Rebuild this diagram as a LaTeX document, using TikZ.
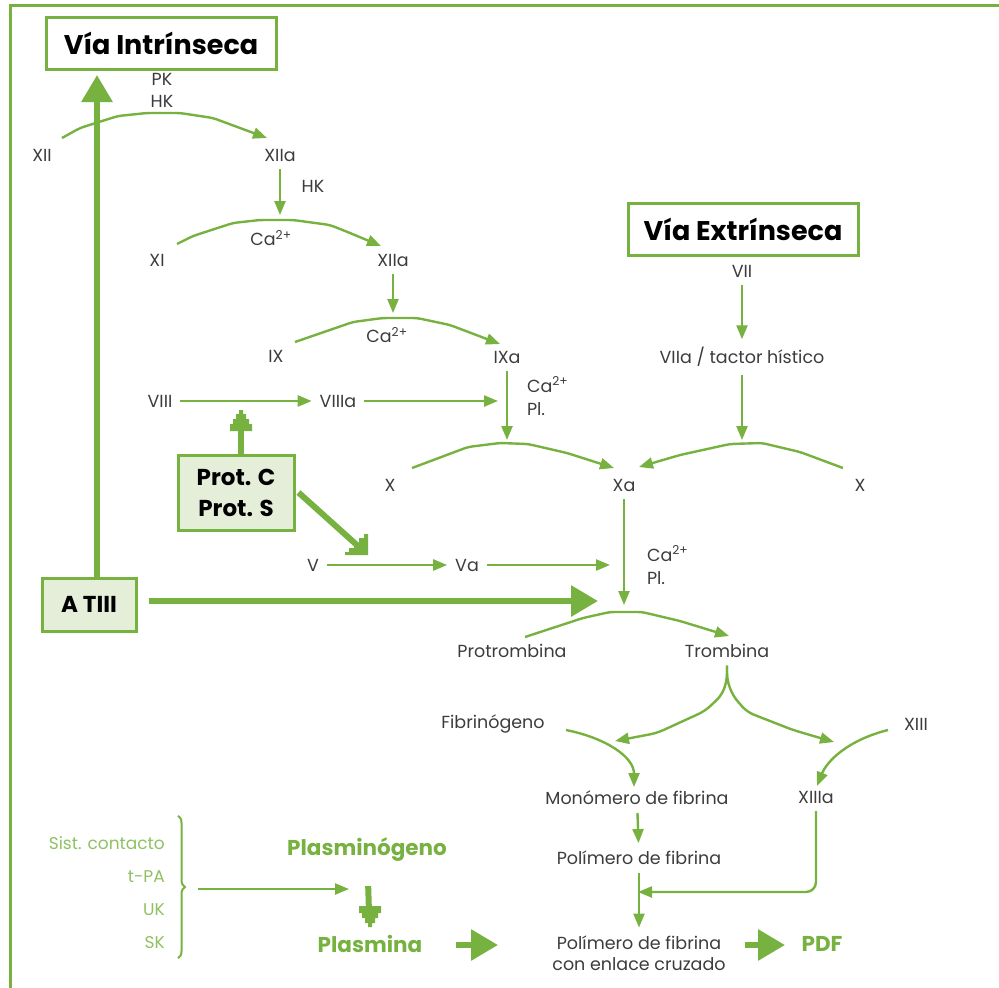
\documentclass[tikz,border=0pt]{standalone}
\usepackage{fontspec}
\setmainfont{Poppins}
\usetikzlibrary{arrows.meta,positioning,decorations.pathreplacing,calc}
\definecolor{leaf}{RGB}{119,177,64}
\definecolor{pale}{RGB}{229,238,217}
\definecolor{soft}{RGB}{143,193,98}
\definecolor{ink}{RGB}{60,60,60}
\tikzset{>={Triangle[length=14pt,width=11pt]}}
\tikzstyle{lbl}=[inner sep=4pt, outer sep=4pt, text=ink, font=\fontsize{17.5}{22}\selectfont]
\tikzstyle{flow}=[->, draw=leaf, line width=2.4pt]
\tikzstyle{heavy}=[-{Triangle[length=27pt,width=30pt]}, draw=leaf, line width=6pt]
\tikzstyle{thickline}=[draw=leaf, line width=6pt]
\tikzstyle{title}=[draw=leaf, line width=3pt, fill=white, text=black, font=\fontsize{27}{30}\selectfont\bfseries, minimum width=230pt, minimum height=52pt, inner sep=2pt]
\tikzstyle{inhib}=[draw=leaf, line width=3pt, fill=pale, text=black, align=center, font=\fontsize{23}{31}\selectfont\bfseries]
\tikzstyle{plasm}=[inner sep=3pt, text=leaf, font=\fontsize{21.5}{24}\selectfont\bfseries]
\tikzset{
  stairup/.pic={\fill[leaf] (-2,0) -- (2,0) -- (2,4) -- (5,4) -- (5,9) -- (8,9) -- (8,14) -- (11,14) -- (11,21)
    -- (-11,21) -- (-11,14) -- (-8,14) -- (-8,9) -- (-5,9) -- (-5,4) -- (-2,4) -- cycle;},
  stairdiag/.pic={\fill[leaf] (0,0) -- (-23,0) -- (-23,-3) -- (-19,-3) -- (-19,-7) -- (-14,-7) -- (-14,-12)
    -- (-9,-12) -- (-9,-17) -- (-4,-17) -- (-4,-21) -- (0,-21) -- cycle;}
}

\begin{document}
\begin{tikzpicture}[x=1pt,y=-1pt]
  \useasboundingbox (0,0) rectangle (999,988);

  % Frame
  \draw[leaf, line width=3pt] (10,988) -- (10,5) -- (999,5);

  % Titles
  \node[title] (viaIn) at (161,43) {Vía Intrínseca};
  \node[title] (viaEx) at (743,229.5) {Vía Extrínseca};

  % Intrinsic pathway
  \node[lbl, align=center] (pkhk) at (162,90) {PK\\HK};
  \node[lbl] (xii) at (42,155) {XII};
  \node[lbl] (xiia) at (280,155) {XIIa};
  \node[lbl] (hk) at (313,186) {HK};
  \node[lbl] (xi) at (157,260) {XI};
  \node[lbl] (ca1) at (271,238) {Ca\textsuperscript{2+}};
  \node[lbl] (xiia2) at (393,260) {XIIa};
  \node[lbl] (ix) at (276,356) {IX};
  \node[lbl] (ca2) at (387,335) {Ca\textsuperscript{2+}};
  \node[lbl] (ixa) at (507,357) {IXa};
  \node[lbl, align=left, anchor=west, font=\fontsize{17.5}{23}\selectfont] (capl1) at (519,396) {Ca\textsuperscript{2+}\\Pl.};
  \node[lbl] (viii) at (160,401) {VIII};
  \node[lbl] (viiia) at (338,401) {VIIIa};

  % Extrinsic pathway
  \node[lbl] (vii) at (742,271) {VII};
  \node[lbl] (viia) at (742,357) {VIIa / tactor hístico};

  % Common pathway
  \node[lbl] (x1) at (390,485) {X};
  \node[lbl] (xa) at (624,485) {Xa};
  \node[lbl] (x2) at (860,485) {X};
  \node[lbl] (v) at (313,565) {V};
  \node[lbl] (va) at (467,565) {Va};
  \node[lbl, align=left, anchor=west, font=\fontsize{17.5}{23}\selectfont] (capl2) at (639,565) {Ca\textsuperscript{2+}\\Pl.};
  \node[lbl] (protr) at (512,651) {Protrombina};
  \node[lbl] (tromb) at (727,651) {Trombina};
  \node[lbl] (fibr) at (493,724) {Fibrinógeno};
  \node[lbl] (xiii) at (916,724) {XIII};
  \node[lbl] (mono) at (637,798) {Monómero de fibrina};
  \node[lbl] (xiiia) at (816,797) {XIIIa};
  \node[lbl] (poli) at (639,858) {Polímero de fibrina};
  \node[lbl, align=center, font=\fontsize{17.5}{21}\selectfont] (polix) at (639,953) {Polímero de fibrina\\con enlace cruzado};

  % Inhibitors
  \node[inhib, minimum width=116pt, minimum height=75pt] (prot) at (236,492.5) {Prot. C\\Prot. S};
  \node[inhib, minimum width=94pt, minimum height=53pt] (atiii) at (89,604.5) {A TIII};

  % Fibrinolysis
  \node[plasm] (plgn) at (367,849) {Plasminógeno};
  \node[plasm] (plas) at (370,944) {Plasmina};
  \node[plasm] (pdf) at (822,944) {PDF};
  \node[inner sep=3pt, anchor=east, align=right, text=soft, font=\fontsize{17}{33}\selectfont] (activ) at (168,893) {Sist. contacto\\t-PA\\UK\\SK};

  % Free ends
  \coordinate (t1) at (280,215);
  \coordinate (t2) at (393,313);
  \coordinate (t3) at (507,440);
  \coordinate (t4) at (498,401);
  \coordinate (t5) at (742,440);
  \coordinate (t6) at (624,605);
  \coordinate (t7) at (610,565);
  \coordinate (t8) at (598,601);
  \coordinate (t9) at (97,72);
  \coordinate (t10) at (241,410);
  \coordinate (t11) at (368,555);
  \coordinate (t12) at (370,927);
  \coordinate (t13) at (638,892);
  \coordinate (t14) at (349,889);
  \coordinate (fl) at (615,741);
  \coordinate (fr) at (834,742);

  % Arcs
  \draw[flow, rounded corners=4pt] ([shift={(20,-17)}]xii.center) -- (80,128) -- (118,116) -- (147,113)
    -- (180,113) -- (213,118) -- ([shift={(-13,-17)}]xiia.center);
  \draw[flow, rounded corners=4pt] ([shift={(20,-16)}]xi.center) -- (193,236) -- (233,223) -- (260,220)
    -- (293,220) -- (330,225) -- (350,233) -- ([shift={(-12,-14)}]xiia2.center);
  \draw[flow, rounded corners=4pt] ([shift={(19,-14)}]ix.center) -- (353,322) -- (383,318) -- (417,318)
    -- (450,325) -- ([shift={(-7,-13)}]ixa.center);
  \draw[flow, rounded corners=4pt] ([shift={(22,-17)}]x1.center) -- (468,447) -- (500,443) -- (528,444)
    -- (567,453) -- ([shift={(-10,-17)}]xa.center);
  \draw[flow, rounded corners=4pt] ([shift={(-17,-17)}]x2.center) -- (800,452) -- (762,443) -- (730,444)
    -- (680,455) -- ([shift={(15,-18)}]xa.center);
  \draw[flow, rounded corners=4pt] ([shift={(13,-14)}]protr.center) -- (583,618) -- (610,612) -- (642,612)
    -- (680,621) -- ([shift={(2,-15)}]tromb.center);

  % Straight steps
  \draw[flow] (xiia) -- (t1);
  \draw[flow] (xiia2) -- (t2);
  \draw[flow] (ixa) -- (t3);
  \draw[flow] (viii) -- (viiia);
  \draw[flow] (viiia) -- (t4);
  \draw[flow] (vii) -- (viia);
  \draw[flow] (viia) -- (t5);
  \draw[flow] (xa) -- (t6);
  \draw[flow] (v) -- (va);
  \draw[flow] (va) -- (t7);

  % Fibrin
  \draw[flow, rounded corners=7pt] (tromb.south) -- (727,680) -- (722,695) -- (705,711) -- (657,733) -- (fl);
  \draw[flow, rounded corners=7pt] (tromb.south) -- (727,680) -- (733,696) -- (747,712) -- (793,730) -- (fr);
  \draw[flow] ([shift={(73,6)}]fibr.center) .. controls +(40,8) and +(0,-30) .. ([shift={(-3,-11)}]mono.center);
  \draw[flow] ([shift={(-28,6)}]xiii.center) .. controls +(-40,10) and +(10,-25) .. ([shift={(1,-11)}]xiiia.center);
  \draw[flow] (mono) -- (poli);
  \draw[flow] (poli) -- (polix);
  \draw[flow, rounded corners=10pt] (xiiia.south) |- (t13);

  % Inhibition
  \draw[heavy, shorten >=3pt] ([xshift=8pt]atiii.north) -- (t9);
  \draw[heavy, shorten <=11pt] (atiii.east |- t8) -- (t8);
  \draw[thickline, shorten >=10pt] ([xshift=5pt]prot.north) -- (t10);
  \pic at (t10) {stairup};
  \draw[thickline, shorten >=12pt] ([xshift=3pt]prot.east) -- (t11);
  \pic at (t11) {stairdiag};

  % Fibrinolysis
  \draw[leaf, line width=2pt, decorate, decoration={brace, amplitude=7pt}]
    ([xshift=10pt,yshift=18pt]activ.north east) -- ([xshift=10pt,yshift=-6pt]activ.south east);
  \draw[flow] ($(t14 -| activ.east)+(30,0)$) -- (t14);
  \draw[thickline, shorten <=22pt, shorten >=22pt] (plgn) -- (plas);
  \pic[rotate=180] at (t12) {stairup};
  \draw[heavy] ([shift={(86,1)}]plas.center) -- ([shift={(128,1)}]plas.center);
  \draw[heavy] ([shift={(-77,1)}]pdf.center) -- ([shift={(-37,1)}]pdf.center);
\end{tikzpicture}
\end{document}
